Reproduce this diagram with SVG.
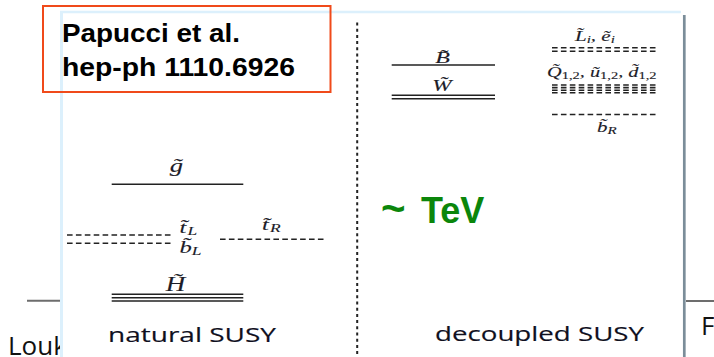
<svg xmlns="http://www.w3.org/2000/svg" width="714" height="357" viewBox="0 0 714 357">
<defs>
<style>
.slide{fill:#111;font-family:"Open Sans","DejaVu Sans",sans-serif;font-size:26px}
.lvl{stroke:#222;stroke-width:1.4;fill:none}
.dash{stroke:#222;stroke-width:1.6;fill:none;stroke-dasharray:5.6 3.3}
.m{fill:#1c1c28;stroke:#1c1c28;stroke-width:0.12;font-family:"Liberation Serif","DejaVu Serif",serif;font-style:italic}
.cap{fill:#10101e;stroke:#10101e;stroke-width:0.15;font-family:"Open Sans","DejaVu Sans",sans-serif;font-size:20px}
.ref{fill:#000;font-family:"Liberation Sans",Arial,sans-serif;font-weight:bold;font-size:25px}
</style>
<clipPath id="leftclip"><rect x="0" y="0" width="60" height="357"/></clipPath>
</defs>
<rect width="714" height="357" fill="#fff"/>
<!-- slide background pieces -->
<line x1="27" y1="300.7" x2="62" y2="300.7" stroke="#6d6d6d" stroke-width="2"/>
<line x1="686" y1="301" x2="714" y2="301" stroke="#6d6d6d" stroke-width="2"/>
<text class="slide" x="8" y="355" clip-path="url(#leftclip)">Louk</text>
<text class="slide" x="701" y="335">F</text>
<!-- figure panel -->
<rect x="61.5" y="12" width="622" height="350" fill="#fff"/>
<line x1="61.5" y1="11" x2="61.5" y2="357" stroke="#dcf0fc" stroke-width="3"/>
<line x1="60" y1="12" x2="681" y2="12" stroke="#dcf0fc" stroke-width="2.5"/>
<line x1="684.3" y1="15" x2="684.3" y2="357" stroke="#7b8d99" stroke-width="2.7"/>
<g id="separator">
<line x1="357.2" y1="22.5" x2="357.2" y2="357" stroke="#222" stroke-width="2" stroke-dasharray="3 3.2"/>
</g>
<g id="connectors"></g>
<!-- natural SUSY -->
<g id="gluino">
<line class="lvl" x1="111.7" y1="184.3" x2="243.3" y2="184.3"/>
<text class="m" font-size="19" text-anchor="middle" transform="translate(176.5,172) scale(1.4,1)">g&#x303;</text>
</g>
<g id="stop-sbottom-L">
<line class="dash" x1="67" y1="235" x2="173" y2="235"/>
<line class="dash" x1="67" y1="243.3" x2="173" y2="243.3"/>
<text class="m" font-size="17" transform="translate(179.5,232.5) scale(1.45,1)">t&#x303;<tspan font-size="12" dx="0.8" dy="2">L</tspan></text>
<text class="m" font-size="17" transform="translate(179.5,252.8) scale(1.45,1)">b&#x303;<tspan font-size="12" dy="2">L</tspan></text>
</g>
<g id="stop-R">
<line class="dash" x1="220" y1="239.3" x2="326" y2="239.3"/>
<text class="m" font-size="17" transform="translate(262,230) scale(1.45,1)">t&#x303;<tspan font-size="12" dx="0.8" dy="2">R</tspan></text>
</g>
<g id="higgsino">
<line class="lvl" x1="111.7" y1="294.3" x2="243.3" y2="294.3"/>
<line class="lvl" x1="111.7" y1="297.7" x2="243.3" y2="297.7" stroke="#444"/>
<line class="lvl" x1="111.7" y1="301" x2="243.3" y2="301"/>
<text class="m" font-size="20" text-anchor="middle" transform="translate(175.5,291) scale(1.35,1)">H&#x303;</text>
</g>
<g id="caption-natural">
<text class="cap" x="108" y="341.5" textLength="168" lengthAdjust="spacingAndGlyphs">natural SUSY</text>
</g>
<!-- decoupled SUSY -->
<g id="bino">
<line class="lvl" x1="391.7" y1="65" x2="495" y2="65"/>
<text class="m" font-size="16" text-anchor="middle" transform="translate(442.5,63.3) scale(1.5,1)">B&#x303;</text>
</g>
<g id="wino">
<line class="lvl" x1="391.7" y1="95.3" x2="495" y2="95.3"/>
<line class="lvl" x1="391.7" y1="98.8" x2="495" y2="98.8"/>
<text class="m" font-size="16" text-anchor="middle" transform="translate(442,90.8) scale(1.45,1)">W&#x303;</text>
</g>
<g id="sleptons">
<line class="dash" x1="552" y1="47.8" x2="658.3" y2="47.8"/>
<line class="dash" x1="552" y1="51.3" x2="658.3" y2="51.3"/>
<text class="m" font-size="14" transform="translate(575,40.5) scale(1.5,1)">L&#x303;<tspan font-size="10" dy="2">i</tspan><tspan dy="-2">, e&#x303;</tspan><tspan font-size="10" dy="2">i</tspan></text>
</g>
<g id="squarks-12">
<line class="dash" x1="552" y1="85" x2="658.3" y2="85"/>
<line class="dash" x1="552" y1="87.6" x2="658.3" y2="87.6"/>
<line class="dash" x1="552" y1="90.2" x2="658.3" y2="90.2"/>
<line class="dash" x1="552" y1="92.8" x2="658.3" y2="92.8"/>
<text class="m" font-size="14" transform="translate(547,76.5) scale(1.45,1)">Q&#x303;<tspan font-size="10" font-style="normal" dy="2">1,2</tspan><tspan dy="-2">, u&#x303;</tspan><tspan font-size="10" font-style="normal" dy="2">1,2</tspan><tspan dy="-2">, d&#x303;</tspan><tspan font-size="10" font-style="normal" dy="2">1,2</tspan></text>
</g>
<g id="sbottom-R">
<line class="dash" x1="552" y1="114.5" x2="658.3" y2="114.5"/>
<text class="m" font-size="14" transform="translate(597,131.5) scale(1.5,1)">b&#x303;<tspan font-size="10" dy="2">R</tspan></text>
</g>
<g id="caption-decoupled">
<text class="cap" x="435" y="340.7" textLength="209" lengthAdjust="spacingAndGlyphs">decoupled SUSY</text>
</g>
<!-- overlays -->
<g id="tev">
<text font-family="Liberation Sans,Arial,sans-serif" font-weight="bold" fill="#0b860b" y="222.5"><tspan x="381" font-size="42">~</tspan><tspan x="421" font-size="36">TeV</tspan></text>
</g>
<g id="reference">
<rect x="43" y="6" width="287.5" height="86" fill="none" stroke="#f04a1a" stroke-width="2"/>
<text class="ref" x="62" y="42" textLength="178" lengthAdjust="spacingAndGlyphs">Papucci et al.</text>
<text class="ref" x="62" y="76" textLength="233" lengthAdjust="spacingAndGlyphs">hep-ph 1110.6926</text>
</g>
</svg>
